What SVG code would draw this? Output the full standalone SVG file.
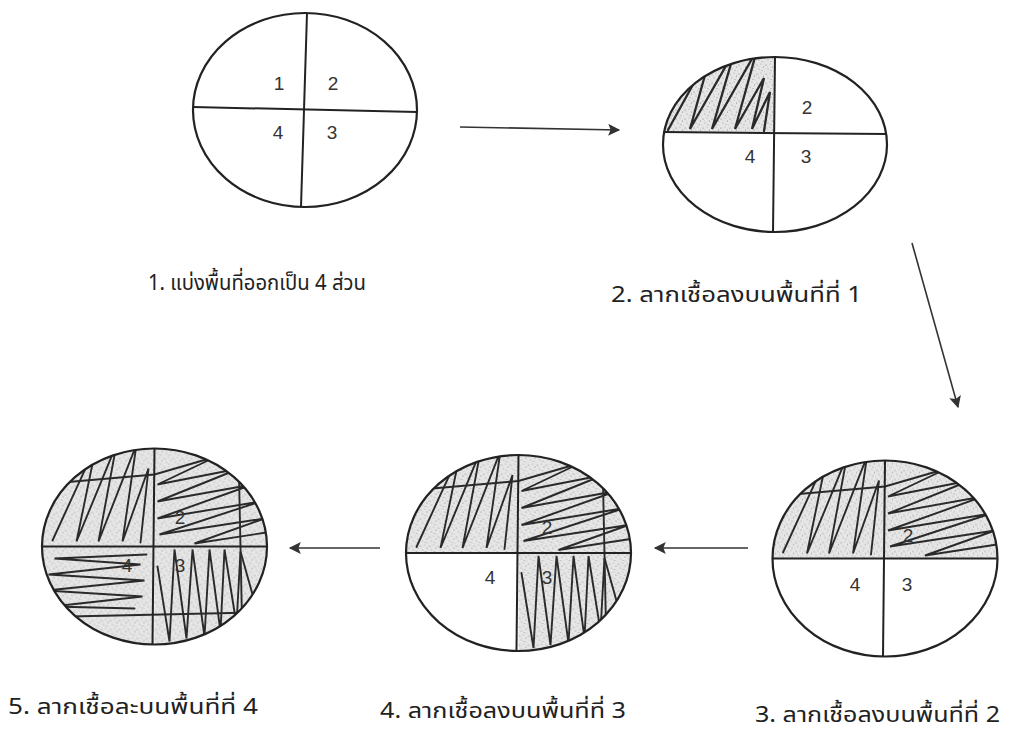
<svg xmlns="http://www.w3.org/2000/svg" xmlns:xlink="http://www.w3.org/1999/xlink" width="1010" height="733" viewBox="0 0 1010 733">
<style>
.plate{fill:none;stroke:#222;stroke-width:2.2}
.div{stroke:#222;stroke-width:2;fill:none}
.streak{fill:none;stroke:#2a2a2a;stroke-width:1.9;stroke-linejoin:miter;stroke-linecap:round}
.num{font-family:"Liberation Sans",Arial,sans-serif;font-size:19px;fill:#333;text-anchor:middle}
.lbl{font-family:"Noto Sans Thai","Noto Serif Thai",Garuda,Loma,"Tlwg Typo","DejaVu Sans",sans-serif;font-size:22px;fill:#222}
.conn{stroke:#333;stroke-width:1.6;fill:none}
</style>
<defs>
<pattern id="stip" width="9" height="9" patternUnits="userSpaceOnUse">
<rect width="9" height="9" fill="#e6e6e6"/>
<circle cx="1" cy="2" r="0.6" fill="#808080"/>
<circle cx="5" cy="1" r="0.5" fill="#999"/>
<circle cx="7.5" cy="4" r="0.6" fill="#858585"/>
<circle cx="3" cy="6" r="0.5" fill="#8a8a8a"/>
<circle cx="6" cy="7.5" r="0.6" fill="#999"/>
<circle cx="2.5" cy="3.8" r="0.4" fill="#aaa"/>
<circle cx="8.3" cy="8.2" r="0.4" fill="#aaa"/>
</pattern>
<marker id="ah" viewBox="0 0 10 10" refX="9" refY="5" markerWidth="14" markerHeight="12" markerUnits="userSpaceOnUse" orient="auto">
<path d="M0,0 L10,5 L0,10 L2,5 z" fill="#333"/>
</marker>
<clipPath id="ce"><ellipse cx="0" cy="0" rx="112.5" ry="98"/></clipPath>
<clipPath id="cq1"><rect x="-120" y="-110" width="120" height="110"/></clipPath>
<clipPath id="cq2"><rect x="0" y="-110" width="120" height="110"/></clipPath>
<clipPath id="cq3"><rect x="0" y="0" width="120" height="110"/></clipPath>
<clipPath id="cq4"><rect x="-120" y="0" width="120" height="110"/></clipPath>
<clipPath id="p2e"><ellipse cx="775" cy="144.5" rx="112" ry="87.5"/></clipPath>
<clipPath id="p2q"><rect x="660" y="50" width="115" height="83"/></clipPath>
<g id="s1"><path class="streak" d="M-102,-6 L-58,-102 L-78,-5 L-38,-102 L-56,-5 L-18,-102 L-32,-5 L-6,-78 L-14,-4"/></g>
<g id="s2"><path class="streak" d="M-92,-64 L0,-72 L62,-90 L3,-62 L85,-78 L3,-45 L98,-62 L3,-28 L106,-45 L5,-12 L110,-28 L40,-3 L112,-14"/></g>
<g id="s3"><path class="streak" d="M84,-95 L88,98"/><path class="streak" d="M3,20 L15,95 L20,3 L32,92 L38,3 L50,90 L55,3 L66,85 L70,3 L82,78 L86,5 L100,55"/></g>
<g id="s4"><path class="streak" d="M99,66 L-85,70"/><path class="streak" d="M-8,8 L-100,12 L-14,18 L-106,28 L-10,34 L-108,44 L-12,50 L-102,60 L-20,62"/></g>
<g id="f1"><ellipse rx="112.5" ry="98" fill="url(#stip)" clip-path="url(#cq1)"/></g>
<g id="f2"><ellipse rx="112.5" ry="98" fill="url(#stip)" clip-path="url(#cq2)"/></g>
<g id="f3"><ellipse rx="112.5" ry="98" fill="url(#stip)" clip-path="url(#cq3)"/></g>
<g id="f4"><ellipse rx="112.5" ry="98" fill="url(#stip)" clip-path="url(#cq4)"/></g>
<g id="frame"><ellipse class="plate" rx="112.5" ry="98"/><line class="div" x1="0" y1="-98" x2="-2" y2="98"/><line class="div" x1="-112.5" y1="0" x2="112.5" y2="0"/></g>
</defs>
<rect width="1010" height="733" fill="#fff"/>

<g id="plate1">
<ellipse class="plate" cx="305" cy="110" rx="112" ry="97"/>
<line class="div" x1="307" y1="13" x2="301" y2="207"/>
<line class="div" x1="193" y1="107" x2="417" y2="112"/>
<text class="num" x="279" y="90">1</text>
<text class="num" x="333" y="90">2</text>
<text class="num" x="278" y="139">4</text>
<text class="num" x="332" y="139">3</text>
</g>

<g id="plate2">
<g clip-path="url(#p2e)"><g clip-path="url(#p2q)">
<rect x="660" y="50" width="115" height="83" fill="url(#stip)"/>
<path class="streak" style="stroke-width:2.3" d="M668,130 L712,50 L690,129 L735,50 L712,129 L757,50 L735,129 L764,78 L752,129 L770,92 L764,131"/>
</g></g>
<ellipse class="plate" cx="775" cy="144.5" rx="112" ry="87.5"/>
<line class="div" x1="775" y1="57" x2="773" y2="232"/>
<line class="div" x1="663" y1="132" x2="887" y2="134"/>
<text class="num" x="807" y="114">2</text>
<text class="num" x="750" y="163">4</text>
<text class="num" x="806" y="163">3</text>
</g>

<g id="plate3" transform="translate(885,558.5)">
<use xlink:href="#f1"/><use xlink:href="#f2"/>
<g clip-path="url(#ce)"><use xlink:href="#s1"/><use xlink:href="#s2"/></g>
<use xlink:href="#frame"/>
<text class="num" x="23" y="-17">2</text>
<text class="num" x="-30" y="32">4</text>
<text class="num" x="22" y="32">3</text>
</g>

<g id="plate4" transform="translate(518.5,553)">
<use xlink:href="#f1"/><use xlink:href="#f2"/><use xlink:href="#f3"/>
<g clip-path="url(#ce)"><use xlink:href="#s1"/><use xlink:href="#s2"/><use xlink:href="#s3"/></g>
<use xlink:href="#frame"/>
<text class="num" x="-28.5" y="30.5">4</text>
<text class="num" x="28.5" y="30.5">3</text>
<text class="num" x="28.5" y="-19.5">2</text>
</g>

<g id="plate5" transform="translate(154.5,546.5)">
<use xlink:href="#f1"/><use xlink:href="#f2"/><use xlink:href="#f3"/><use xlink:href="#f4"/>
<g clip-path="url(#ce)"><use xlink:href="#s1"/><use xlink:href="#s2"/><use xlink:href="#s3"/><use xlink:href="#s4"/></g>
<use xlink:href="#frame"/>
<text class="num" x="25.5" y="-23">2</text>
<text class="num" x="-27.5" y="25">4</text>
<text class="num" x="25.5" y="25">3</text>
</g>

<g id="connectors">
<line class="conn" x1="460" y1="127" x2="619" y2="130" marker-end="url(#ah)"/>
<line class="conn" x1="912" y1="243" x2="958" y2="407" marker-end="url(#ah)"/>
<line class="conn" x1="748" y1="548" x2="655" y2="548" marker-end="url(#ah)"/>
<line class="conn" x1="380" y1="548" x2="290" y2="548" marker-end="url(#ah)"/>
</g>

<g id="labels">
<text class="lbl" x="148" y="290" textLength="218" lengthAdjust="spacingAndGlyphs">1. แบ่งพื้นที่ออกเป็น 4 ส่วน</text>
<text class="lbl" x="611" y="302" textLength="251" lengthAdjust="spacingAndGlyphs">2. ลากเชื้อลงบนพื้นที่ที่ 1</text>
<text class="lbl" x="8" y="714" textLength="250" lengthAdjust="spacingAndGlyphs">5. ลากเชื้อละบนพื้นที่ที่ 4</text>
<text class="lbl" x="380" y="718" textLength="246" lengthAdjust="spacingAndGlyphs">4. ลากเชื้อลงบนพื้นที่ที่ 3</text>
<text class="lbl" x="755" y="722" textLength="245" lengthAdjust="spacingAndGlyphs">3. ลากเชื้อลงบนพื้นที่ที่ 2</text>
</g>
</svg>
